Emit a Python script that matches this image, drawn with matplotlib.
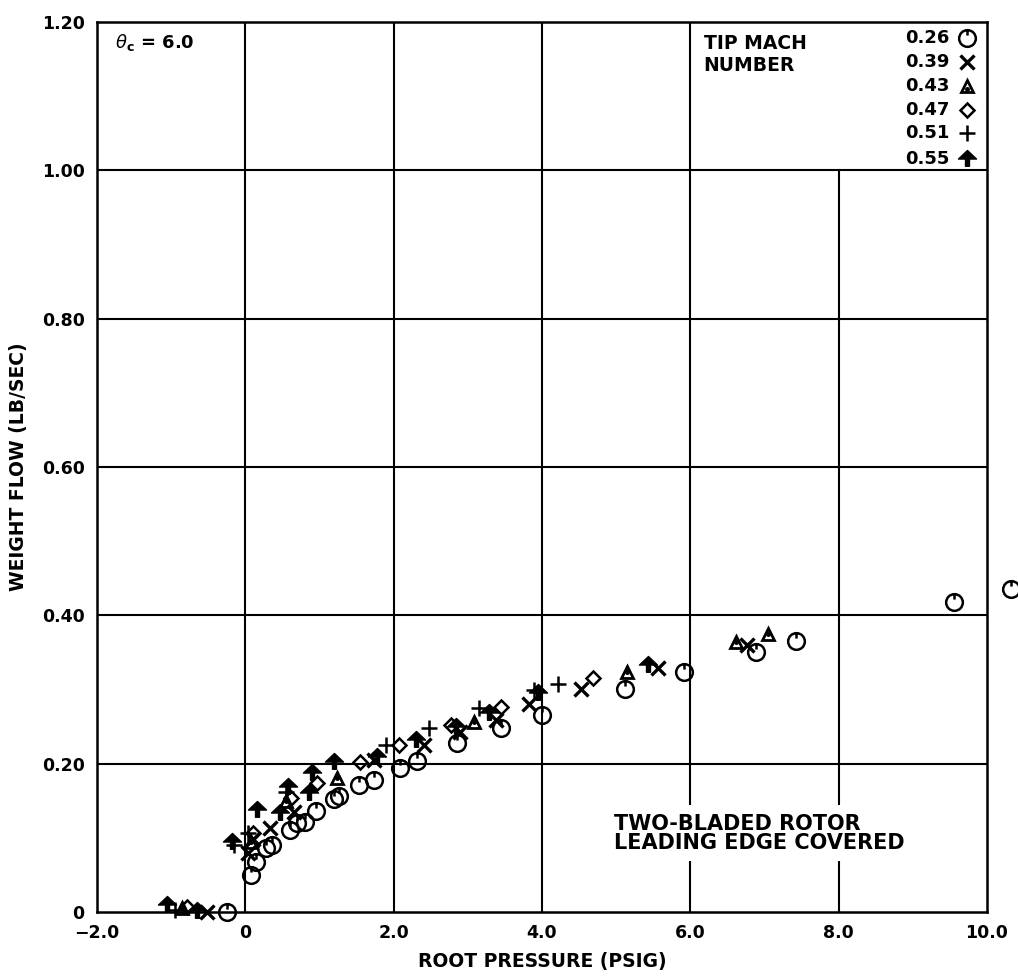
import matplotlib
matplotlib.use('Agg')
import matplotlib.pyplot as plt
from matplotlib.path import Path

# tip mach number series
mach_labels = ['0.26', '0.39', '0.43', '0.47', '0.51', '0.55']

x_026 = [-0.25, 0.07, 0.14, 0.28, 0.36, 0.60, 0.70, 0.80, 0.95, 1.20, 1.26, 1.53, 1.73,
         2.08, 2.32, 2.86, 3.45, 4.00, 5.12, 5.91, 6.88, 7.43, 9.55, 10.32]
y_026 = [0.000, 0.050, 0.067, 0.086, 0.090, 0.111, 0.120, 0.122, 0.136, 0.153, 0.157, 0.171, 0.178,
         0.194, 0.204, 0.228, 0.248, 0.266, 0.301, 0.323, 0.351, 0.365, 0.418, 0.435]

x_039 = [-0.52, 0.03, 0.10, 0.33, 0.65, 1.73, 2.41, 2.90, 3.38, 3.83, 4.53, 5.57, 6.76]
y_039 = [0.000, 0.080, 0.098, 0.113, 0.135, 0.205, 0.225, 0.243, 0.259, 0.280, 0.300, 0.329, 0.360]

x_043 = [-0.85, 0.07, 0.55, 1.24, 3.08, 5.14, 6.62, 7.05]
y_043 = [0.005, 0.095, 0.150, 0.181, 0.256, 0.324, 0.364, 0.375]

x_047 = [-0.78, 0.10, 0.61, 0.97, 1.55, 2.07, 2.77, 3.45, 4.69]
y_047 = [0.007, 0.107, 0.154, 0.174, 0.202, 0.225, 0.252, 0.276, 0.315]

x_051 = [-0.95, -0.15, 0.04, 0.55, 1.89, 2.47, 3.15, 3.89, 4.22]
y_051 = [0.003, 0.090, 0.107, 0.162, 0.225, 0.248, 0.275, 0.299, 0.307]

x_055 = [-1.05, -0.65, -0.18, 0.16, 0.47, 0.58, 0.86, 0.90, 1.19, 1.78, 2.30, 2.84, 3.28, 3.95, 5.43]
y_055 = [0.010, 0.002, 0.094, 0.138, 0.133, 0.169, 0.160, 0.187, 0.202, 0.209, 0.232, 0.249, 0.268, 0.295, 0.333]

x_ticks = [-2, 0, 2, 4, 6, 8, 10]
x_ticklabels = ['\u22122.0', '0', '2.0', '4.0', '6.0', '8.0', '10.0']
y_ticks = [0, 0.2, 0.4, 0.6, 0.8, 1.0, 1.2]
y_ticklabels = ['0', '0.20', '0.40', '0.60', '0.80', '1.00', '1.20']

""" ******* marker shapes ******** """
circle_tick = Path.make_compound_path(
    Path.unit_circle(),
    Path([[0, 1.0], [0, 0.35]], [Path.MOVETO, Path.LINETO]))
spade = Path([(0, 1), (1, 0.05), (0.22, 0.05), (0.22, -0.75), (-0.22, -0.75),
              (-0.22, 0.05), (-1, 0.05), (0, 1)], closed=True)

styles = [
    dict(marker=circle_tick, markersize=12, mfc='none', mec='black', mew=1.8),
    dict(marker='x', markersize=10, mfc='none', mec='black', mew=2.4),
    dict(marker='^', markersize=9, mfc='none', mec='black', mew=2.0),
    dict(marker='D', markersize=7, mfc='none', mec='black', mew=1.8),
    dict(marker='+', markersize=12, mfc='none', mec='black', mew=1.8),
    dict(marker=spade, markersize=13, mfc='black', mec='black', mew=1.0),
]
series = [(x_026, y_026), (x_039, y_039), (x_043, y_043),
          (x_047, y_047), (x_051, y_051), (x_055, y_055)]

fig = plt.figure(figsize=(10.18, 9.8), dpi=100)
ax = fig.add_axes([0.0953, 0.0694, 0.8742, 0.9082])
ax.set_xlim(-2, 10)
ax.set_ylim(0, 1.2)

# grid drawn by hand, the 8.0 line stops under the legend
for yv in [0.2, 0.4, 0.6, 0.8, 1.0]:
    ax.axhline(yv, color='black', lw=1.5, zorder=1)
for xv in [0, 2, 4, 6]:
    ax.axvline(xv, color='black', lw=1.5, zorder=1)
ax.axvline(8, ymax=1.0 / 1.2, color='black', lw=1.5, zorder=1)

for (xs, ys), st in zip(series, styles):
    ax.plot(xs, ys, linestyle='none', clip_on=False, zorder=3, **st)
# the little dot inside the triangles
ax.plot(x_043, y_043, linestyle='none', marker='o', markersize=2.5, color='black', zorder=4)

for sp in ax.spines.values():
    sp.set_linewidth(1.8)

ax.set_xticks(x_ticks)
ax.set_xticklabels(x_ticklabels)
ax.set_yticks(y_ticks)
ax.set_yticklabels(y_ticklabels)
ax.tick_params(length=0, pad=9, labelsize=12.5)
for lab in ax.get_xticklabels() + ax.get_yticklabels():
    lab.set_fontweight('bold')

ax.set_xlabel('ROOT PRESSURE (PSIG)', fontsize=13.5, fontweight='bold', labelpad=7)
ax.set_ylabel('WEIGHT FLOW (LB/SEC)', fontsize=13.5, fontweight='bold', labelpad=10)

ax.text(-1.76, 1.172, r'$\theta_{\mathbf{c}}$ = 6.0', fontsize=13, fontweight='bold',
        va='center', ha='left')

""" ******* legend ******** """
ax.text(6.18, 1.156, 'TIP MACH\nNUMBER', fontsize=13.5, fontweight='bold',
        va='center', ha='left', linespacing=1.2)
leg_y = [0.982, 0.955, 0.928, 0.901, 0.875, 0.846]
for lab, st, ly in zip(mach_labels, styles, leg_y):
    ax.text(0.958, ly, lab, transform=ax.transAxes, fontsize=13, fontweight='bold',
            va='center', ha='right')
    ax.plot([0.978], [ly], transform=ax.transAxes, linestyle='none', clip_on=False, **st)
    if lab == '0.43':
        ax.plot([0.978], [ly - 0.003], transform=ax.transAxes, marker='o', markersize=2.5,
                color='black', linestyle='none')

ax.text(4.97, 0.106, 'TWO-BLADED ROTOR\nLEADING EDGE COVERED', fontsize=15, fontweight='bold',
        ha='left', va='center', linespacing=0.95, zorder=2,
        bbox=dict(facecolor='white', edgecolor='none', pad=6))

plt.savefig('out.png', dpi=100)
